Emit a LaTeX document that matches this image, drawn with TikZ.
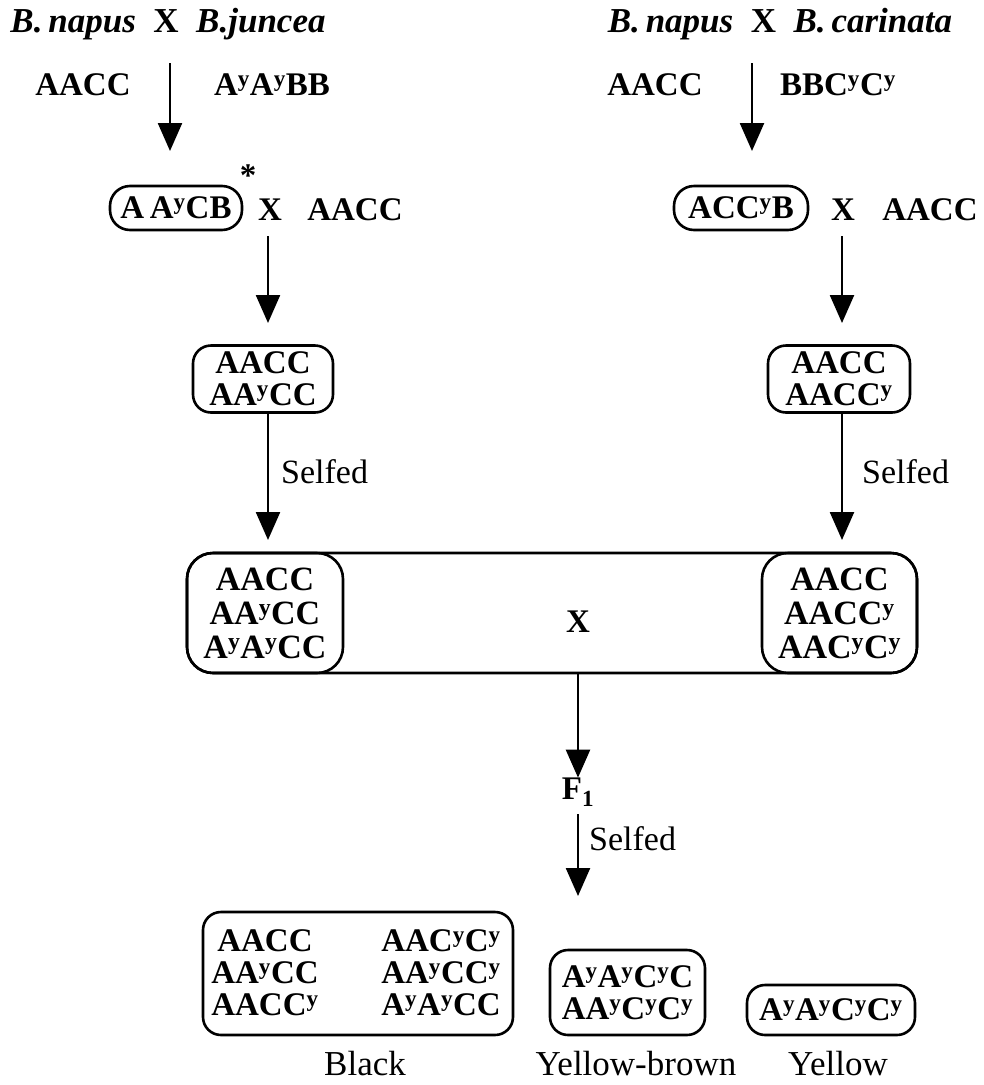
\documentclass[tikz,border=0pt]{standalone}
\usepackage{fontspec}
\setmainfont{Liberation Serif}
\usetikzlibrary{arrows.meta}
\newcommand{\sy}{\textsuperscript{y}}
\begin{document}
\begin{tikzpicture}[x=1pt,y=-1pt,
  gen/.style={font=\fontsize{33}{32}\selectfont\bfseries, inner sep=0pt, align=center},
  lbl/.style={font=\fontsize{35}{36}\selectfont, inner sep=0pt},
  gbox/.style={gen, draw, line width=2.6pt, rounded corners=18pt},
  arr/.style={line width=2.4pt, -{Triangle[width=24pt,length=28pt]}, shorten >=0pt}
]
\useasboundingbox (0,0) rectangle (984,1085);
% titles
\node[gen, font=\fontsize{35}{36}\selectfont\bfseries] (t1) at (168,24) {\textit{B.\,napus}\enspace X\enspace\textit{B.juncea}};
\node[gen, font=\fontsize{35}{36}\selectfont\bfseries] (t2) at (780,24) {\textit{B.\,napus}\enspace X\enspace\textit{B.\,carinata}};
\node[gen] (p1) at (83,85) {AACC};
\node[gen] (p2) at (272,85) {A\sy A\sy BB};
\node[gen] (p3) at (655,85) {AACC};
\node[gen] (p4) at (838,85) {BBC\sy C\sy};
\coordinate (s1) at (170,63); \coordinate (e1) at (170,151);
\coordinate (s2) at (752,63); \coordinate (e2) at (752,151);
\draw[arr] (s1) -- (e1);
\draw[arr] (s2) -- (e2);
% hybrids
\node[gbox, rounded corners=20pt, minimum width=132, minimum height=44] (h1) at (176,208) {A\,A\sy CB};
\node[gen] (star) at (248,176) {*};
\node[gen] (x1) at (270,210) {X};
\node[gen] (q1) at (355,210) {AACC};
\node[gbox, rounded corners=20pt, minimum width=134, minimum height=44] (h2) at (741,208) {ACC\sy B};
\node[gen] (x2) at (843,210) {X};
\node[gen] (q2) at (930,210) {AACC};
\coordinate (s3) at (268,236); \coordinate (e3) at (268,323);
\coordinate (s4) at (842,236); \coordinate (e4) at (842,323);
\draw[arr] (s3) -- (e3);
\draw[arr] (s4) -- (e4);
% backcross progeny
\node[gbox, minimum width=140, minimum height=67] (b1) at (263,379) {AACC\\AA\sy CC};
\node[gbox, minimum width=142, minimum height=67] (b2) at (839,379) {AACC\\AACC\sy};
\coordinate (e5) at (268,540); \coordinate (e6) at (842,540);
\draw[arr] (b1.south -| e5) -- (e5) node[lbl, font=\fontsize{34}{36}\selectfont, pos=0.46, anchor=west, xshift=12pt] (sf1) {Selfed};
\draw[arr] (b2.south -| e6) -- (e6) node[lbl, font=\fontsize{34}{36}\selectfont, pos=0.46, anchor=west, xshift=19pt] (sf2) {Selfed};
% big box
\node[draw, line width=2.6pt, rounded corners=26pt, minimum width=730, minimum height=120, inner sep=0pt] (big) at (552,613) {};
\node[gbox, font=\fontsize{34}{34}\selectfont\bfseries, rounded corners=26pt, minimum width=156, minimum height=120] (c1) at (265,613) {AACC\\AA\sy CC\\A\sy A\sy CC};
\node[gbox, font=\fontsize{34}{34}\selectfont\bfseries, rounded corners=26pt, minimum width=155, minimum height=120] (c2) at (839.5,613) {AACC\\AACC\sy\\AAC\sy C\sy};
\node[gen] (x3) at (578,622) {X};
\node[gen] (f1) at (578,792) {F\textsubscript{1}};
\coordinate (s7) at (578,673);
\draw[arr] (s7) -- (f1.north);
\coordinate (e8) at (578,896);
\draw[arr] (f1.south) ++(0,8) coordinate (s8) -- (e8) node[lbl, font=\fontsize{34}{36}\selectfont, pos=0.3, anchor=west, xshift=10pt] (sf3) {Selfed};
% F2 classes
\node[gbox, minimum width=310, minimum height=123] (k1) at (358,973.5) {};
\node[gen] (k1a) at (265,973) {AACC\\AA\sy CC\\AACC\sy};
\node[gen] (k1b) at (441,973) {AAC\sy C\sy\\AA\sy CC\sy\\A\sy A\sy CC};
\node[gbox, minimum width=155, minimum height=85] (k2) at (627.5,992.5) {A\sy A\sy C\sy C\\AA\sy C\sy C\sy};
\node[gbox, minimum width=168, minimum height=50] (k3) at (831,1010) {A\sy A\sy C\sy C\sy};
\node[lbl] (l1) at (365,1064) {Black};
\node[lbl] (l2) at (636,1064) {Yellow-brown};
\node[lbl] (l3) at (838,1064) {Yellow};
\end{tikzpicture}
\end{document}
